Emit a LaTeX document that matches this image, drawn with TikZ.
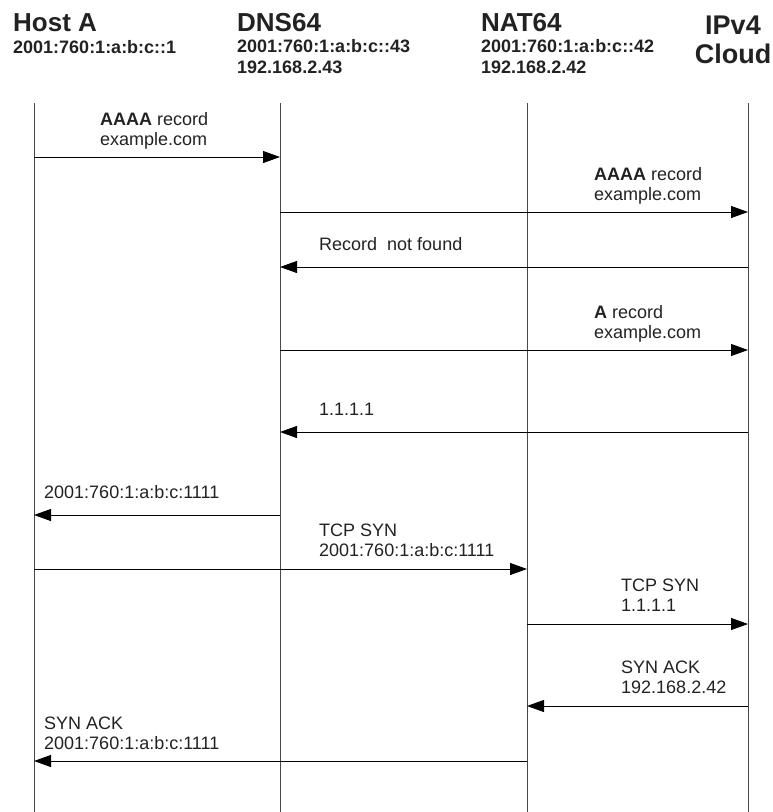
\documentclass[tikz,border=0pt]{standalone}
\usepackage{fontspec}
\setmainfont{Liberation Sans}
\usetikzlibrary{arrows.meta}
\definecolor{txt}{RGB}{34,34,34}
\definecolor{life}{RGB}{70,70,70}
\tikzset{
  lifeline/.style={draw=life, line width=1pt},
  msg/.style={draw=black, line width=1pt, -{Triangle[length=17pt,width=12pt]}},
  head/.style={anchor=base west, inner sep=0pt, text=txt, font=\fontsize{26}{26}\selectfont\bfseries},
  sub/.style={anchor=base west, inner sep=0pt, text=txt, align=left, font=\fontsize{18}{20.5}\selectfont\bfseries},
  lbl/.style={anchor=base west, inner sep=0pt, text=txt, align=left, font=\fontsize{18}{20}\selectfont},
}
\begin{document}
\begin{tikzpicture}[x=1pt,y=-1pt]
\useasboundingbox (0,0) rectangle (773,812);
% headers
\node[head] (hA) at (13,31) {Host A};
\node[sub] (hAs) at (13,53) {2001:760:1:a:b:c::1};
\node[head] (hD) at (237,31) {DNS64};
\node[sub] (hDs) at (237,73) {2001:760:1:a:b:c::43\\192.168.2.43};
\node[head] (hN) at (481,31) {NAT64};
\node[sub] (hNs) at (481,73) {2001:760:1:a:b:c::42\\192.168.2.42};
\node[anchor=base, inner sep=0pt, text=txt, align=center, font=\fontsize{27}{29}\selectfont\bfseries] (hC) at (733,63) {IPv4\\Cloud};
% lifelines
\coordinate (A0) at (34,103);  \coordinate (A1) at (34,812);
\coordinate (D0) at (280,103); \coordinate (D1) at (280,812);
\coordinate (N0) at (527,103); \coordinate (N1) at (527,812);
\coordinate (C0) at (748,103); \coordinate (C1) at (748,812);
\draw[lifeline] (A0) -- (A1);
\draw[lifeline] (D0) -- (D1);
\draw[lifeline] (N0) -- (N1);
\draw[lifeline] (C0) -- (C1);
% message endpoints
\coordinate (m1a) at (34,157);  \coordinate (m1b) at (280,157);
\coordinate (m2a) at (280,212); \coordinate (m2b) at (748,212);
\coordinate (m3a) at (748,267); \coordinate (m3b) at (280,267);
\coordinate (m4a) at (280,350); \coordinate (m4b) at (748,350);
\coordinate (m5a) at (748,432); \coordinate (m5b) at (280,432);
\coordinate (m6a) at (280,515); \coordinate (m6b) at (34,515);
\coordinate (m7a) at (34,569);  \coordinate (m7b) at (527,569);
\coordinate (m8a) at (527,624); \coordinate (m8b) at (748,624);
\coordinate (m9a) at (748,706); \coordinate (m9b) at (527,706);
\coordinate (m10a) at (527,761); \coordinate (m10b) at (34,761);
\draw[msg] (m1a) -- (m1b);
\draw[msg] (m2a) -- (m2b);
\draw[msg] (m3a) -- (m3b);
\draw[msg] (m4a) -- (m4b);
\draw[msg] (m5a) -- (m5b);
\draw[msg] (m6a) -- (m6b);
\draw[msg] (m7a) -- (m7b);
\draw[msg] (m8a) -- (m8b);
\draw[msg] (m9a) -- (m9b);
\draw[msg] (m10a) -- (m10b);
% labels (base anchor = last line baseline)
\node[lbl] (l1) at (100,145) {\textbf{AAAA} record\\example.com};
\node[lbl] (l2) at (594,200) {\textbf{AAAA} record\\example.com};
\node[lbl] (l3) at (319,250) {Record\ \ not found};
\node[lbl] (l4) at (594,338) {\textbf{A} record\\example.com};
\node[lbl] (l5) at (319,415) {1.1.1.1};
\node[lbl] (l6) at (44,498) {2001:760:1:a:b:c:1111};
\node[lbl] (l7) at (319,556) {TCP SYN\\2001:760:1:a:b:c:1111};
\node[lbl] (l8) at (621,611) {TCP SYN\\1.1.1.1};
\node[lbl] (l9) at (621,693) {SYN ACK\\192.168.2.42};
\node[lbl] (l10) at (44,749) {SYN ACK\\2001:760:1:a:b:c:1111};
\end{tikzpicture}
\end{document}
